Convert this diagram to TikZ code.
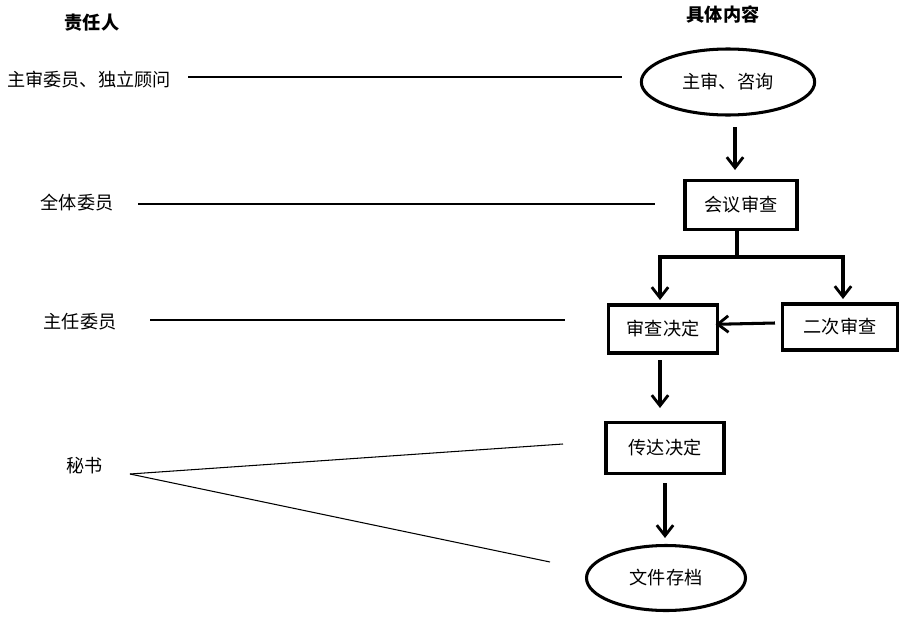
\documentclass[tikz,border=0pt]{standalone}
\usepackage{fontspec}
\setmainfont{Noto Sans CJK SC}
\usetikzlibrary{arrows.meta,shapes.geometric}

\tikzset{
  stepbox/.style={draw,line width=2.6pt,minimum width=3.2cm,minimum height=1.4cm,inner sep=0pt},
  oval/.style={draw,ellipse,line width=2.6pt,inner sep=0pt},
  flow/.style={line width=2.6pt,-{Straight Barb[length=9pt,width=14pt,line width=2.4pt]}},
  guide/.style={line width=0.9pt},
  who/.style={font=\fontsize{15.5}{17}\selectfont},
  txt/.style={font=\fontsize{15.5}{17}\selectfont}
}

\begin{document}
\begin{tikzpicture}[x=0.03cm,y=-0.03cm]
\useasboundingbox (0,0) rectangle (900,616);

% headings
\node[font=\fontsize{15.5}{17}\selectfont\bfseries] (hwho) at (92,23) {责任人};
\node[font=\fontsize{15.5}{17}\selectfont\bfseries] (hwhat) at (723,14) {具体内容};

% left column
\node[who] (r1) at (89,80) {主审委员、独立顾问};
\node[who] (r2) at (77,203) {全体委员};
\node[who] (r3) at (80,322) {主任委员};
\node[who,anchor=east] (r4) at (107,466) {秘书};

% flow
\node[oval,minimum width=5.2cm,minimum height=1.98cm,txt] (zs) at (728,82) {主审、咨询};
\node[stepbox,minimum width=3.36cm,minimum height=1.47cm,txt] (hy) at (741,205) {会议审查};
\node[stepbox,minimum width=3.27cm,minimum height=1.44cm,txt] (jd) at (663,329) {审查决定};
\node[stepbox,minimum width=3.45cm,minimum height=1.38cm,txt] (ec) at (840,327) {二次审查};
\node[stepbox,minimum width=3.54cm,minimum height=1.53cm,txt] (cd) at (665,448) {传达决定};
\node[oval,minimum width=4.77cm,minimum height=1.95cm,txt] (wj) at (666,578) {文件存档};

\coordinate (fork) at (737,257);
\coordinate (sec) at (130,474);

\draw[flow] (735,127) -- (735,170);
\draw[line width=2.6pt] (hy.south -| fork) -- (fork);
\draw[flow] (fork) -| (660,300);
\draw[flow] (fork) -| (843,299);
\draw[flow] (ec.west) ++(-6,-4) -- ([xshift=-3pt,yshift=4pt]jd.east);
\draw[flow] (660,360) -- (660,408);
\draw[flow] (665,483) -- (665,538);

% guide lines
\draw[guide] (188,77) -- (622,77);
\draw[guide] (138,204) -- (655,204);
\draw[guide] (150,320) -- (565,320);
\draw[guide] (sec) -- (563,444);
\draw[guide] (sec) -- (550,562);
\end{tikzpicture}
\end{document}
